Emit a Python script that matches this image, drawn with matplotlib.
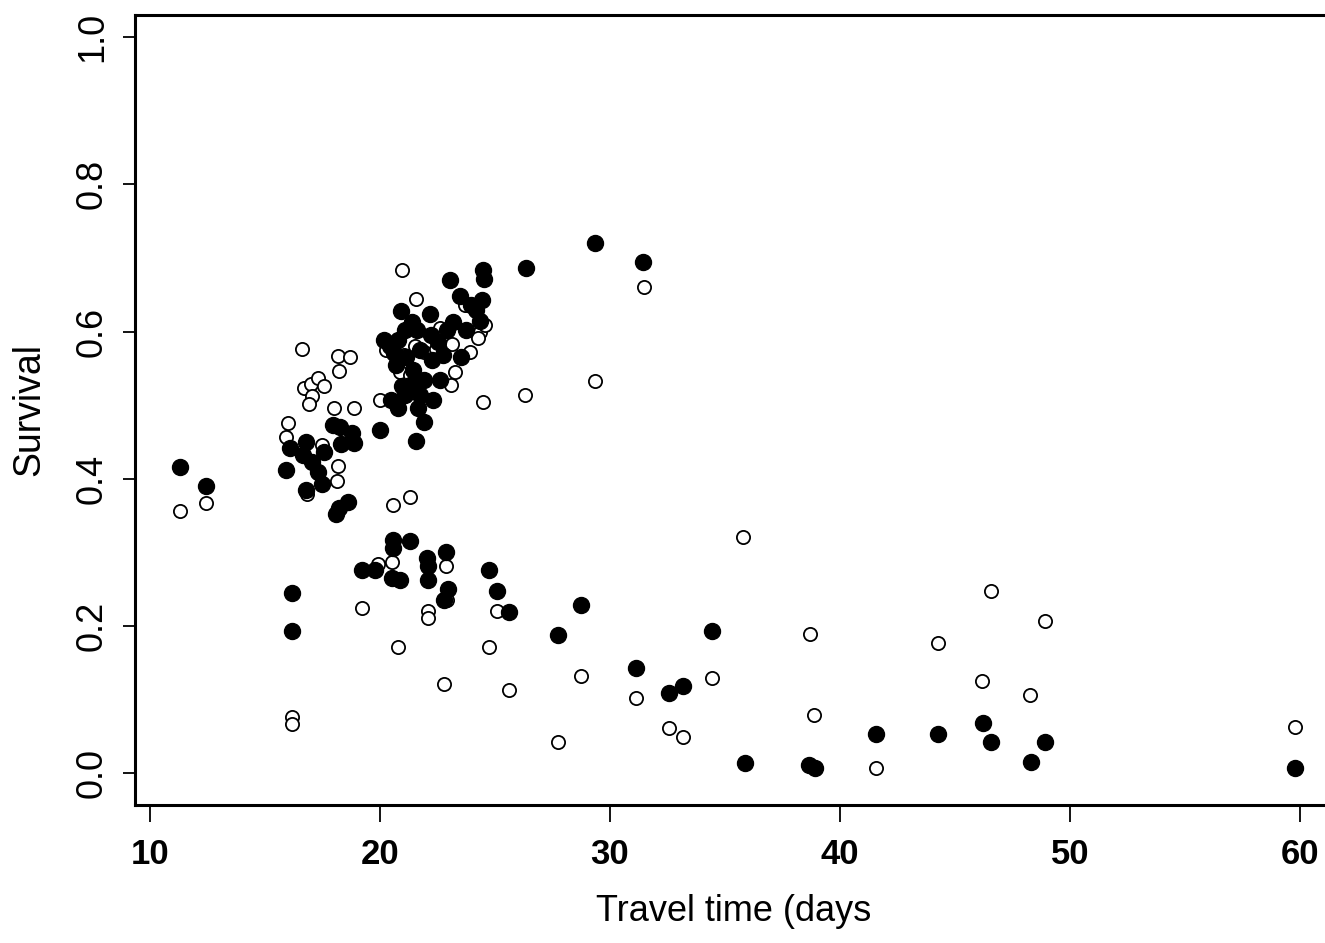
import matplotlib
matplotlib.use("Agg")
import matplotlib.pyplot as plt

# Filled (solid) points
filled_x = [11.30, 12.43, 16.17, 16.17, 15.91, 16.09, 16.78, 16.65, 17.04, 17.30,
            17.48, 16.78, 17.57, 17.96, 18.26, 18.30, 18.78, 18.87, 18.61, 18.09,
            18.22, 20.00, 20.17, 20.43, 20.61, 20.91, 21.09, 21.39, 21.61, 20.70,
            21.13, 21.43, 20.48, 20.78, 21.09, 21.30, 21.57, 21.91, 22.17, 22.22,
            22.26, 22.30, 21.91, 22.52, 22.61, 23.04, 23.17, 23.48, 23.74, 23.52,
            24.17, 24.48, 24.52, 24.43, 24.35, 23.96, 26.35, 29.35, 31.43, 19.22,
            19.78, 20.57, 20.57, 20.52, 20.87, 21.30, 22.04, 22.09, 22.09, 22.87,
            22.78, 22.96, 24.74, 25.09, 25.61, 27.74, 28.74, 31.13, 32.57, 33.17,
            34.43, 35.87, 38.65, 38.91, 41.57, 44.26, 46.22, 46.57, 48.30, 48.91,
            59.78, 21.74, 21.74, 20.78, 20.96, 21.65, 22.74, 22.91]
filled_y = [0.416, 0.390, 0.245, 0.193, 0.412, 0.442, 0.450, 0.432, 0.423, 0.409,
            0.393, 0.385, 0.436, 0.473, 0.471, 0.447, 0.462, 0.448, 0.368, 0.352,
            0.361, 0.467, 0.588, 0.580, 0.571, 0.628, 0.602, 0.613, 0.602, 0.554,
            0.565, 0.548, 0.507, 0.496, 0.514, 0.527, 0.452, 0.477, 0.624, 0.595,
            0.561, 0.507, 0.534, 0.586, 0.534, 0.670, 0.613, 0.648, 0.602, 0.565,
            0.629, 0.683, 0.671, 0.643, 0.615, 0.636, 0.686, 0.721, 0.694, 0.276,
            0.276, 0.317, 0.306, 0.265, 0.262, 0.315, 0.292, 0.281, 0.262, 0.300,
            0.235, 0.251, 0.276, 0.247, 0.219, 0.188, 0.228, 0.143, 0.109, 0.118,
            0.193, 0.014, 0.012, 0.007, 0.053, 0.053, 0.068, 0.043, 0.015, 0.043,
            0.007, 0.575, 0.514, 0.588, 0.526, 0.496, 0.568, 0.602]

# Open (hollow) points
open_x = [11.30, 12.43, 16.17, 16.17, 16.61, 16.00, 15.91, 16.70, 17.00, 17.30,
          17.57, 17.04, 16.91, 18.17, 18.70, 18.22, 18.00, 18.87, 17.48, 18.17,
          18.13, 16.83, 20.96, 21.57, 20.00, 20.26, 20.87, 21.04, 21.52, 21.91,
          22.61, 22.70, 23.13, 23.26, 23.70, 24.35, 24.57, 24.26, 24.48, 26.30,
          29.35, 31.48, 20.57, 21.30, 19.91, 20.52, 22.87, 22.91, 22.09, 22.09,
          25.09, 19.22, 20.78, 22.78, 24.74, 25.61, 28.74, 27.74, 31.13, 32.57,
          33.17, 34.43, 35.78, 38.70, 38.87, 41.57, 44.26, 46.17, 46.57, 48.26,
          48.91, 59.78, 22.43, 21.30, 23.09, 23.91]
open_y = [0.356, 0.367, 0.077, 0.067, 0.576, 0.476, 0.457, 0.523, 0.529, 0.537,
          0.526, 0.512, 0.501, 0.567, 0.565, 0.546, 0.496, 0.496, 0.446, 0.417,
          0.397, 0.379, 0.683, 0.644, 0.507, 0.575, 0.545, 0.568, 0.580, 0.572,
          0.605, 0.592, 0.583, 0.545, 0.636, 0.599, 0.609, 0.591, 0.504, 0.514,
          0.533, 0.660, 0.364, 0.375, 0.285, 0.287, 0.281, 0.235, 0.221, 0.211,
          0.221, 0.224, 0.171, 0.122, 0.171, 0.113, 0.132, 0.042, 0.102, 0.061,
          0.050, 0.130, 0.321, 0.189, 0.079, 0.007, 0.177, 0.126, 0.247, 0.107,
          0.207, 0.063, 0.577, 0.541, 0.527, 0.572]

x_ticks = [10, 20, 30, 40, 50, 60]
y_ticks = [0.0, 0.2, 0.4, 0.6, 0.8, 1.0]
x_label = "Travel time (days"
y_label = "Survival"

plt.rcParams['font.family'] = ['Liberation Sans', 'DejaVu Sans']

fig = plt.figure(figsize=(13.25, 9.43), dpi=100)
W, H = 1325, 943
left_px, right_px, top_px, bottom_px = 135, 1332, 15, 805
ax = fig.add_axes([left_px / W, (H - bottom_px) / H,
                   (right_px - left_px) / W, (bottom_px - top_px) / H])

ax.plot(open_x, open_y, linestyle='none', marker='o', markersize=9.5,
        markerfacecolor='white', markeredgecolor='black', markeredgewidth=1.3,
        zorder=2)
ax.plot(filled_x, filled_y, linestyle='none', marker='o', markersize=11.5,
        markerfacecolor='black', markeredgecolor='black', zorder=3)

ax.set_xlim(9.35, 61.4)
ax.set_ylim(-0.043, 1.03)

ax.set_xticks(x_ticks)
ax.set_xticklabels([str(t) for t in x_ticks], fontsize=25, fontweight='bold')
ax.set_yticks(y_ticks)
ax.set_yticklabels([f"{t:.1f}" for t in y_ticks], fontsize=26, rotation=90,
                   va='center')

for side in ['left', 'bottom', 'top']:
    ax.spines[side].set_linewidth(2.2)
ax.spines['right'].set_visible(False)

ax.tick_params(axis='x', direction='out', length=12, width=1.3, pad=12)
ax.tick_params(axis='y', direction='out', length=9, width=1.3, pad=9)

ax.set_xlabel(x_label, fontsize=26, labelpad=16)
ax.set_ylabel(y_label, fontsize=27, labelpad=20)

fig.savefig("out.png", dpi=100, facecolor='white')
